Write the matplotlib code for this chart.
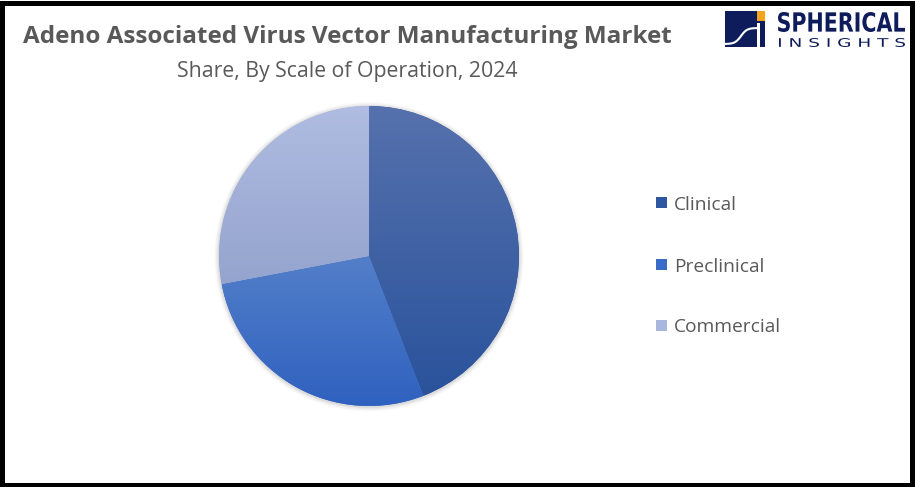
import numpy as np
import matplotlib
matplotlib.use("Agg")
import matplotlib.pyplot as plt
from matplotlib.colors import LinearSegmentedColormap
from matplotlib.patches import Rectangle, Circle, PathPatch
from matplotlib.textpath import TextPath
from matplotlib.font_manager import FontProperties
from matplotlib.transforms import Affine2D

categories = ["Clinical", "Preclinical", "Commercial"]
shares = [44.1, 27.9, 28.0]
top_colors = ["#5671AD", "#537FC9", "#B0BCE1"]
bottom_colors = ["#2A539C", "#2F61BF", "#94A4CE"]
legend_colors = ["#2F56A0", "#3A6BC8", "#A9B6DD"]

title = "Adeno Associated Virus Vector Manufacturing Market"
subtitle = "Share, By Scale of Operation, 2024"

W, H = 917, 487
fig = plt.figure(figsize=(W / 100, H / 100), dpi=100)
fig.patch.set_facecolor("white")

# pie axes
cx, cy, R = 369, 256, 150
L = 1.05
ax = fig.add_axes([(cx - R * L) / W, (H - cy - R * L) / H, 2 * R * L / W, 2 * R * L / H])
ax.set_axis_off()

# soft shadow
for i, a in enumerate([0.05, 0.04, 0.03, 0.02]):
    ax.add_patch(Circle((0.0, -0.005), 1.0 + 0.008 * (i + 1), color="#000000",
                        alpha=a, lw=0, zorder=0))

wedges, _ = ax.pie(shares, startangle=90, counterclock=False, radius=1.0,
                   colors=legend_colors, wedgeprops=dict(linewidth=0))

for w, tc, bc in zip(wedges, top_colors, bottom_colors):
    th = np.linspace(np.radians(w.theta1), np.radians(w.theta2), 200)
    ys = np.concatenate([[0.0], w.r * np.sin(th)])
    xs = np.concatenate([[0.0], w.r * np.cos(th)])
    cmap = LinearSegmentedColormap.from_list("g", [tc, bc])
    grad = np.linspace(0, 1, 256).reshape(-1, 1)
    im = ax.imshow(grad, cmap=cmap, aspect="auto",
                   extent=[xs.min(), xs.max(), ys.min(), ys.max()],
                   origin="upper", zorder=3, interpolation="bilinear")
    im.set_clip_path(w)
ax.set_xlim(-L, L)
ax.set_ylim(-L, L)

# titles
font = "Open Sans"
fig.text(347 / W, 1 - 37 / H, title, ha="center", va="center",
         fontsize=17.5, fontweight="bold", color="#595959", family=font)
fig.text(347 / W, 1 - 71 / H, subtitle, ha="center", va="center",
         fontsize=15.3, color="#595959", family=font)

# legend
leg_y = [203, 265, 326]
for lab, c, y in zip(categories, legend_colors, leg_y):
    fig.patches.append(Rectangle((656 / W, 1 - (y + 5) / H), 11 / W, 11 / H,
                                 transform=fig.transFigure, color=c, lw=0))
    fig.text(674 / W, 1 - (y + 1.5) / H, lab, ha="left", va="center",
             fontsize=13.8, color="#595959", family=font)

# logo
navy = "#0F1C5C"
fig.patches.append(Rectangle((725 / W, 1 - 47 / H), 40 / W, 36 / H,
                             transform=fig.transFigure, color=navy, lw=0))
fig.patches.append(Rectangle((757 / W, 1 - 21 / H), 8 / W, 10 / H,
                             transform=fig.transFigure, color="#F5A31A", lw=0))
sx = np.linspace(725, 757, 50)
sy = 36 - 8 * np.tanh((sx - 741) / 6)
fig.add_artist(plt.Line2D(sx / W, 1 - sy / H, color="white", lw=1.5,
                          transform=fig.transFigure))
fig.patches.append(Rectangle((757 / W, 1 - 47 / H), 2.5 / W, 24 / H,
                             transform=fig.transFigure, color="white", lw=0))


def fitted_text(s, x0, x1, ytop, ybot, weight):
    tp = TextPath((0, 0), s, size=10,
                  prop=FontProperties(family="DejaVu Sans", weight=weight))
    bb = tp.get_extents()
    sxf = (x1 - x0) / bb.width
    syf = (ybot - ytop) / bb.height
    tr = (Affine2D().translate(-bb.x0, -bb.y0).scale(sxf, syf)
          .translate(x0, H - ybot).scale(1 / W, 1 / H) + fig.transFigure)
    fig.patches.append(PathPatch(tp, transform=tr, color=navy, lw=0))


fitted_text("SPHERICAL", 778, 905, 12, 32, "bold")
fitted_text("I N S I G H T S", 779, 905, 38, 47, "normal")

# border
fig.patches.append(Rectangle((2 / W, 2.5 / H), (W - 7.5) / W, (H - 5) / H,
                             transform=fig.transFigure, fill=False,
                             edgecolor="black", lw=3.6))

fig.savefig("out.png", dpi=100, facecolor="white")
